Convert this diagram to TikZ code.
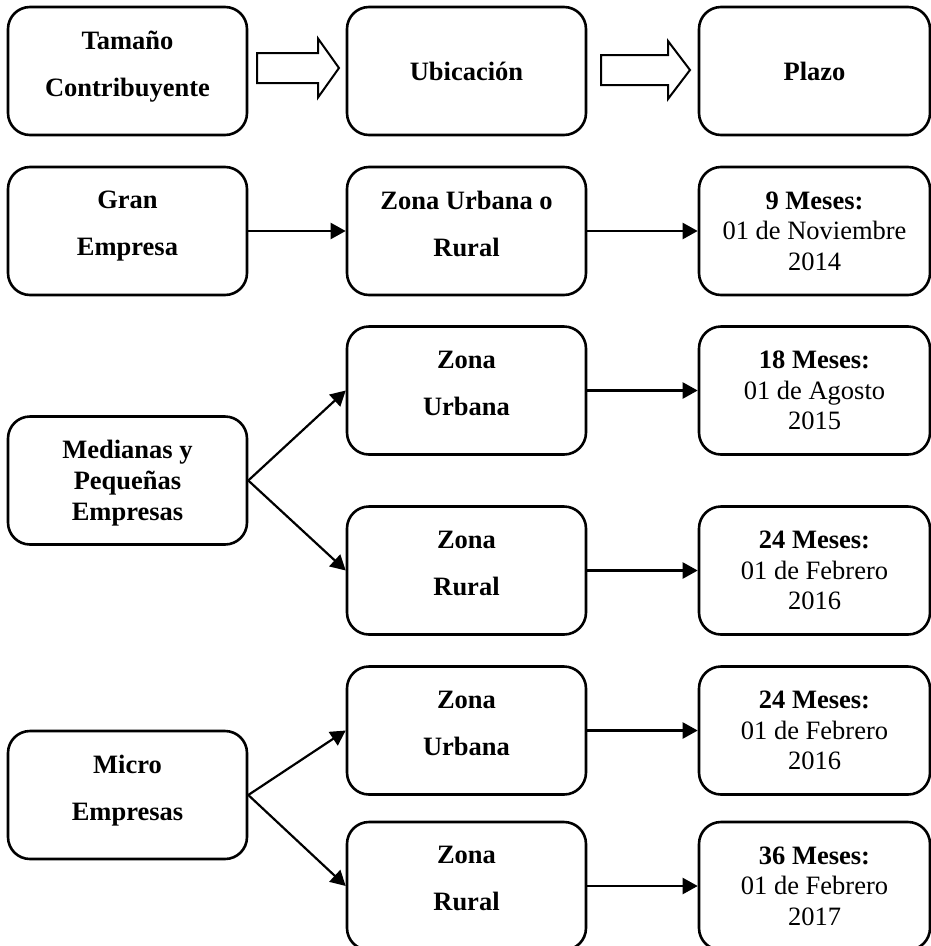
\documentclass[tikz,border=0pt]{standalone}
\usepackage{fontspec}
\setmainfont{Liberation Serif}
\usetikzlibrary{arrows.meta}
\newcommand\mydp{\rule[-15pt]{0pt}{15pt}}
\begin{document}
\begin{tikzpicture}[x=1pt,y=-1pt,
  box/.style={draw, line width=2.6pt, rounded corners=22pt, minimum width=239pt,
    minimum height=128pt, align=center, inner sep=0pt,
    font=\fontsize{26.5}{47}\selectfont\bfseries},
  boxr/.style={box, minimum width=231pt, font=\fontsize{26.5}{30.5}\selectfont},
  conn/.style={line width=2.2pt, -{Triangle[length=15pt,width=16pt]}},
  blk/.style={draw, line width=2pt, line join=miter}]
\useasboundingbox (0,0) rectangle (931,946);

% header row
\node[box] (tam) at (127.5,71) {Tamaño\\Contribuyente\mydp};
\node[box] (ubi) at (466.5,71) {Ubicación};
\node[boxr] (pla) at (814.5,71) {\textbf{Plazo}};
\draw[blk] (257,53) -- (318,53) -- (318,38.5) -- (339,68) -- (318,97.5) -- (318,83) -- (257,83) -- cycle;
\draw[blk] (601,55) -- (668,55) -- (668,41) -- (690,70) -- (668,99) -- (668,85) -- (601,85) -- cycle;

% Gran Empresa
\node[box] (gran) at (127.5,231) {Gran\\Empresa\mydp};
\node[box] (zur) at (466.5,231) {Zona Urbana o\\Rural\mydp};
\node[boxr] (p9) at (814.5,231) {\textbf{9 Meses:}\\01 de Noviembre\\2014};

% Medianas y Pequenas
\node[box, font=\fontsize{26.5}{31}\selectfont\bfseries] (med) at (127.5,480.5) {Medianas y\\Pequeñas\\\smash{Empresas}};
\node[box] (zu1) at (466.5,390.5) {Zona\\Urbana\mydp};
\node[boxr] (p18) at (814.5,390.5) {\textbf{18 Meses:}\\01 de Agosto\\2015};
\node[box] (zr1) at (466.5,570.5) {Zona\\Rural\mydp};
\node[boxr] (p24a) at (814.5,570.5) {\textbf{24 Meses:}\\01 de Febrero\\2016};

% Micro
\node[box] (mic) at (127.5,795) {Micro\\Empresas\mydp};
\node[box] (zu2) at (466.5,730.5) {Zona\\Urbana\mydp};
\node[boxr] (p24b) at (814.5,730.5) {\textbf{24 Meses:}\\01 de Febrero\\2016};
\node[box] (zr2) at (466.5,886) {Zona\\Rural\mydp};
\node[boxr] (p36) at (814.5,886) {\textbf{36 Meses:}\\01 de Febrero\\2017};

% connectors
\draw[conn] (gran.east) -- (zur.west);
\draw[conn] (zur.east) -- (p9.west);
\draw[conn] (med.east) -- (zu1.west);
\draw[conn] (med.east) -- (zr1.west);
\draw[conn] (zu1.east) -- (p18.west);
\draw[conn] (zr1.east) -- (p24a.west);
\draw[conn] (mic.east) -- (zu2.west);
\draw[conn] (mic.east) -- (zr2.west);
\draw[conn] (zu2.east) -- (p24b.west);
\draw[conn] (zr2.east) -- (p36.west);
\end{tikzpicture}
\end{document}
